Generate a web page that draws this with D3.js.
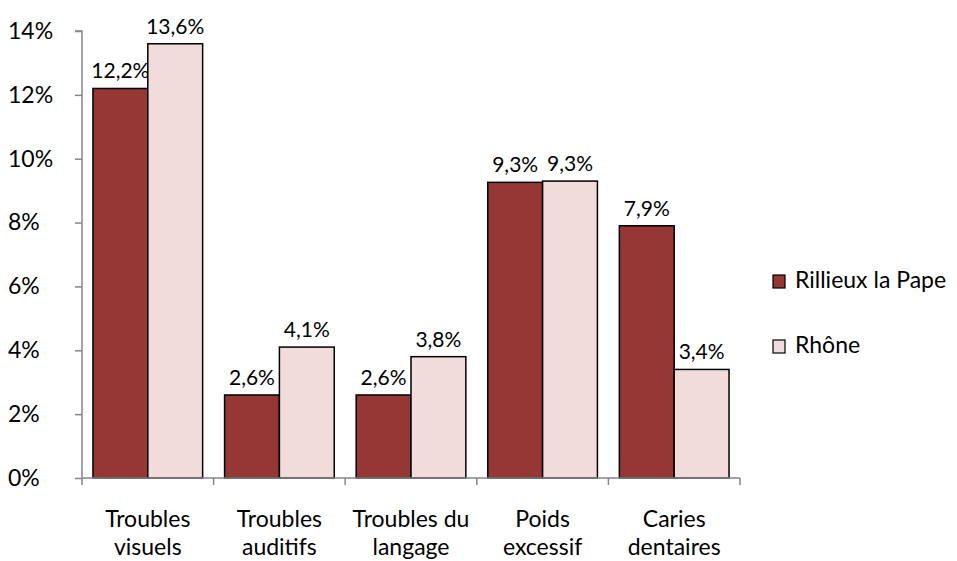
<html>
<head>
  <meta charset="utf-8">
  <script src="https://d3js.org/d3.v7.min.js"></script>
  <style>
    * { margin: 0; padding: 0; }
    body { background: white; font-family: "Lato", "Open Sans", sans-serif; }
  </style>
</head>
<body>
<div id="chart"></div>
<script>
  // data
  var categories = [["Troubles", "visuels"], ["Troubles", "auditifs"], ["Troubles du", "langage"], ["Poids", "excessif"], ["Caries", "dentaires"]];
  var seriesNames = ["Rillieux la Pape", "Rhône"];
  var rillieux = [12.2, 2.6, 2.6, 9.26, 7.9];
  var rhone = [13.6, 4.1, 3.8, 9.3, 3.4];
  var yTicks = [0, 2, 4, 6, 8, 10, 12, 14];
  var colors = ["#953735", "#F2DCDB"];

  var w = 957, h = 561;
  var plotLeft = 82, plotRight = 740, plotTop = 31, plotBottom = 478;

  var svg = d3.select("#chart").append("svg")
    .attr("width", w).attr("height", h);

  var x = d3.scaleBand().domain(d3.range(categories.length)).range([plotLeft, plotRight]).paddingInner(0).paddingOuter(0);
  var inner = d3.scaleBand().domain([0, 1]).range([0, x.bandwidth()]).paddingOuter(0.2).paddingInner(0);
  var y = d3.scaleLinear().domain([0, 14]).range([plotBottom, plotTop]);

  var series = [rillieux, rhone];

  // bars
  series.forEach(function(vals, s) {
    svg.append("g").selectAll("rect")
      .data(vals).enter().append("rect")
      .attr("x", function(d, i) { return x(i) + inner(s); })
      .attr("y", function(d) { return y(d); })
      .attr("width", inner.bandwidth())
      .attr("height", function(d) { return y(0) - y(d); })
      .attr("fill", colors[s])
      .attr("stroke", "#000")
      .attr("stroke-width", 1.5);

    svg.append("g").selectAll("text")
      .data(vals).enter().append("text")
      .attr("x", function(d, i) { return x(i) + inner(s) + inner.bandwidth() / 2; })
      .attr("y", function(d) { return y(d) - 10; })
      .attr("text-anchor", "middle")
      .attr("font-size", 21)
      .attr("fill", "#000")
      .text(function(d) { return d.toFixed(1).replace(".", ",") + "%"; });
  });

  // y axis
  var yAxis = svg.append("g").attr("transform", "translate(" + plotLeft + ",0)")
    .call(d3.axisLeft(y).tickValues(yTicks).tickSize(7).tickPadding(25).tickFormat(function(d) { return d + "%"; }));
  yAxis.select(".domain").attr("stroke", "#868686").attr("stroke-width", 1.5).attr("d", "M-7," + plotTop + "H0V" + plotBottom);
  yAxis.selectAll(".tick line").attr("stroke", "#868686").attr("stroke-width", 1.5);
  yAxis.selectAll(".tick text").attr("font-size", 23).attr("fill", "#000")
    .attr("font-family", "Lato, 'Open Sans', sans-serif").attr("text-anchor", "start").attr("x", -74);

  // x axis
  var xg = svg.append("g");
  xg.append("line").attr("x1", plotLeft).attr("x2", plotRight).attr("y1", plotBottom).attr("y2", plotBottom)
    .attr("stroke", "#868686").attr("stroke-width", 1.5);
  xg.selectAll("line.tk").data(d3.range(categories.length + 1)).enter().append("line")
    .attr("class", "tk")
    .attr("x1", function(d) { return d < categories.length ? x(d) : plotRight; })
    .attr("x2", function(d) { return d < categories.length ? x(d) : plotRight; })
    .attr("y1", plotBottom).attr("y2", plotBottom + 7)
    .attr("stroke", "#868686").attr("stroke-width", 1.5);

  var cl = xg.selectAll("text").data(categories).enter().append("text")
    .attr("text-anchor", "middle")
    .attr("font-size", 23)
    .attr("fill", "#000");
  cl.append("tspan").attr("x", function(d, i) { return x(i) + x.bandwidth() / 2; }).attr("y", 527).text(function(d) { return d[0]; });
  cl.append("tspan").attr("x", function(d, i) { return x(i) + x.bandwidth() / 2; }).attr("y", 555).text(function(d) { return d[1]; });

  // legend
  var lg = svg.append("g").selectAll("g").data(seriesNames).enter().append("g")
    .attr("transform", function(d, i) { return "translate(773," + (275 + i * 65) + ")"; });
  lg.append("rect").attr("width", 12).attr("height", 13)
    .attr("fill", function(d, i) { return colors[i]; })
    .attr("stroke", "#000").attr("stroke-width", 1.2);
  lg.append("text").attr("x", 22).attr("y", 13).attr("font-size", 23).attr("fill", "#000")
    .text(function(d) { return d; });
</script>
</body>
</html>
